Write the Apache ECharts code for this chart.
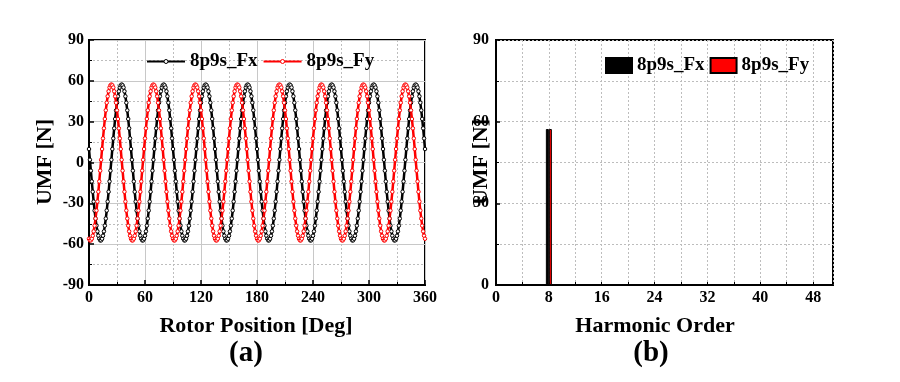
<!DOCTYPE html>
<html><head><meta charset="utf-8">
<script src="https://cdn.jsdelivr.net/npm/echarts@6/dist/echarts.min.js"></script>
<style>html,body{margin:0;padding:0;background:#fff}#c{width:900px;height:382px}</style>
</head><body><div id="c"></div>
<script>
// ---- data ----
const rotorStepDeg = 1; // sample spacing of the rotor position (deg)
const fxUMF = [
9.9,2.0,-6.0,-13.9,-21.5,-28.7,-35.3,-41.2,-46.4,-50.6,-53.8,-56.0,-57.2,-57.2,-56.0,-53.8,-50.6,-46.4,-41.2,-35.3,-28.7,-21.5,-13.9,-6.0,2.0,9.9,17.7,25.1,32.0,38.3,43.9,48.6,52.3,55.1,56.7,57.3,56.7,55.1,52.3,48.6,43.9,38.3,32.0,25.1,17.7,
9.9,2.0,-6.0,-13.9,-21.5,-28.7,-35.3,-41.2,-46.4,-50.6,-53.8,-56.0,-57.2,-57.2,-56.0,-53.8,-50.6,-46.4,-41.2,-35.3,-28.7,-21.5,-13.9,-6.0,2.0,9.9,17.7,25.1,32.0,38.3,43.9,48.6,52.3,55.1,56.7,57.3,56.7,55.1,52.3,48.6,43.9,38.3,32.0,25.1,17.7,
9.9,2.0,-6.0,-13.9,-21.5,-28.7,-35.3,-41.2,-46.4,-50.6,-53.8,-56.0,-57.2,-57.2,-56.0,-53.8,-50.6,-46.4,-41.2,-35.3,-28.7,-21.5,-13.9,-6.0,2.0,9.9,17.7,25.1,32.0,38.3,43.9,48.6,52.3,55.1,56.7,57.3,56.7,55.1,52.3,48.6,43.9,38.3,32.0,25.1,17.7,
9.9,2.0,-6.0,-13.9,-21.5,-28.7,-35.3,-41.2,-46.4,-50.6,-53.8,-56.0,-57.2,-57.2,-56.0,-53.8,-50.6,-46.4,-41.2,-35.3,-28.7,-21.5,-13.9,-6.0,2.0,9.9,17.7,25.1,32.0,38.3,43.9,48.6,52.3,55.1,56.7,57.3,56.7,55.1,52.3,48.6,43.9,38.3,32.0,25.1,17.7,
9.9,2.0,-6.0,-13.9,-21.5,-28.7,-35.3,-41.2,-46.4,-50.6,-53.8,-56.0,-57.2,-57.2,-56.0,-53.8,-50.6,-46.4,-41.2,-35.3,-28.7,-21.5,-13.9,-6.0,2.0,9.9,17.7,25.1,32.0,38.3,43.9,48.6,52.3,55.1,56.7,57.3,56.7,55.1,52.3,48.6,43.9,38.3,32.0,25.1,17.7,
9.9,2.0,-6.0,-13.9,-21.5,-28.7,-35.3,-41.2,-46.4,-50.6,-53.8,-56.0,-57.2,-57.2,-56.0,-53.8,-50.6,-46.4,-41.2,-35.3,-28.7,-21.5,-13.9,-6.0,2.0,9.9,17.7,25.1,32.0,38.3,43.9,48.6,52.3,55.1,56.7,57.3,56.7,55.1,52.3,48.6,43.9,38.3,32.0,25.1,17.7,
9.9,2.0,-6.0,-13.9,-21.5,-28.7,-35.3,-41.2,-46.4,-50.6,-53.8,-56.0,-57.2,-57.2,-56.0,-53.8,-50.6,-46.4,-41.2,-35.3,-28.7,-21.5,-13.9,-6.0,2.0,9.9,17.7,25.1,32.0,38.3,43.9,48.6,52.3,55.1,56.7,57.3,56.7,55.1,52.3,48.6,43.9,38.3,32.0,25.1,17.7,
9.9,2.0,-6.0,-13.9,-21.5,-28.7,-35.3,-41.2,-46.4,-50.6,-53.8,-56.0,-57.2,-57.2,-56.0,-53.8,-50.6,-46.4,-41.2,-35.3,-28.7,-21.5,-13.9,-6.0,2.0,9.9,17.7,25.1,32.0,38.3,43.9,48.6,52.3,55.1,56.7,57.3,56.7,55.1,52.3,48.6,43.9,38.3,32.0,25.1,17.7,
9.9
];
const fyUMF = [
-56.0,-57.2,-57.2,-56.0,-53.8,-50.6,-46.4,-41.2,-35.3,-28.7,-21.5,-13.9,-6.0,2.0,9.9,17.7,25.1,32.0,38.3,43.9,48.6,52.3,55.1,56.7,57.3,56.7,55.1,52.3,48.6,43.9,38.3,32.0,25.1,17.7,9.9,2.0,-6.0,-13.9,-21.5,-28.7,-35.3,-41.2,-46.4,-50.6,-53.8,
-56.0,-57.2,-57.2,-56.0,-53.8,-50.6,-46.4,-41.2,-35.3,-28.7,-21.5,-13.9,-6.0,2.0,9.9,17.7,25.1,32.0,38.3,43.9,48.6,52.3,55.1,56.7,57.3,56.7,55.1,52.3,48.6,43.9,38.3,32.0,25.1,17.7,9.9,2.0,-6.0,-13.9,-21.5,-28.7,-35.3,-41.2,-46.4,-50.6,-53.8,
-56.0,-57.2,-57.2,-56.0,-53.8,-50.6,-46.4,-41.2,-35.3,-28.7,-21.5,-13.9,-6.0,2.0,9.9,17.7,25.1,32.0,38.3,43.9,48.6,52.3,55.1,56.7,57.3,56.7,55.1,52.3,48.6,43.9,38.3,32.0,25.1,17.7,9.9,2.0,-6.0,-13.9,-21.5,-28.7,-35.3,-41.2,-46.4,-50.6,-53.8,
-56.0,-57.2,-57.2,-56.0,-53.8,-50.6,-46.4,-41.2,-35.3,-28.7,-21.5,-13.9,-6.0,2.0,9.9,17.7,25.1,32.0,38.3,43.9,48.6,52.3,55.1,56.7,57.3,56.7,55.1,52.3,48.6,43.9,38.3,32.0,25.1,17.7,9.9,2.0,-6.0,-13.9,-21.5,-28.7,-35.3,-41.2,-46.4,-50.6,-53.8,
-56.0,-57.2,-57.2,-56.0,-53.8,-50.6,-46.4,-41.2,-35.3,-28.7,-21.5,-13.9,-6.0,2.0,9.9,17.7,25.1,32.0,38.3,43.9,48.6,52.3,55.1,56.7,57.3,56.7,55.1,52.3,48.6,43.9,38.3,32.0,25.1,17.7,9.9,2.0,-6.0,-13.9,-21.5,-28.7,-35.3,-41.2,-46.4,-50.6,-53.8,
-56.0,-57.2,-57.2,-56.0,-53.8,-50.6,-46.4,-41.2,-35.3,-28.7,-21.5,-13.9,-6.0,2.0,9.9,17.7,25.1,32.0,38.3,43.9,48.6,52.3,55.1,56.7,57.3,56.7,55.1,52.3,48.6,43.9,38.3,32.0,25.1,17.7,9.9,2.0,-6.0,-13.9,-21.5,-28.7,-35.3,-41.2,-46.4,-50.6,-53.8,
-56.0,-57.2,-57.2,-56.0,-53.8,-50.6,-46.4,-41.2,-35.3,-28.7,-21.5,-13.9,-6.0,2.0,9.9,17.7,25.1,32.0,38.3,43.9,48.6,52.3,55.1,56.7,57.3,56.7,55.1,52.3,48.6,43.9,38.3,32.0,25.1,17.7,9.9,2.0,-6.0,-13.9,-21.5,-28.7,-35.3,-41.2,-46.4,-50.6,-53.8,
-56.0,-57.2,-57.2,-56.0,-53.8,-50.6,-46.4,-41.2,-35.3,-28.7,-21.5,-13.9,-6.0,2.0,9.9,17.7,25.1,32.0,38.3,43.9,48.6,52.3,55.1,56.7,57.3,56.7,55.1,52.3,48.6,43.9,38.3,32.0,25.1,17.7,9.9,2.0,-6.0,-13.9,-21.5,-28.7,-35.3,-41.2,-46.4,-50.6,-53.8,
-56.0
];
const harmonicOrders = [8];
const fxHarmonic = [57.3];
const fyHarmonic = [57.3];
const seriesNames = ['8p9s_Fx', '8p9s_Fy'];
const leftTickLabelsX = [0, 60, 120, 180, 240, 300, 360];
const leftTickLabelsY = [-90, -60, -30, 0, 30, 60, 90];
const rightTickLabelsX = [0, 8, 16, 24, 32, 40, 48];
const rightTickLabelsY = [0, 30, 60, 90];
const texts = {
  leftYTitle: 'UMF [N]', leftXTitle: 'Rotor Position [Deg]', leftTag: '(a)',
  rightYTitle: 'UMF [N]', rightXTitle: 'Harmonic Order', rightTag: '(b)'
};

// ---- build ----
const FONT = "'Liberation Serif', 'Times New Roman', serif";
const pairs = arr => arr.map((v, i) => [i * rotorStepDeg, v]);
const lbl = (list) => ({
  fontFamily: FONT, fontWeight: 'bold', fontSize: 16, color: '#000',
  formatter: v => (list.indexOf(v) >= 0 ? String(v) : '')
});
const axisLine = { show: true, onZero: false, lineStyle: { color: '#000', width: 2 } };
const solidSplit = { show: true, lineStyle: { color: '#c8c8c8', width: 1, type: 'solid' } };
const dotSplit = { show: true, lineStyle: { color: '#bdbdbd', width: 1, type: [2, 2] } };

const chart = echarts.init(document.getElementById('c'), null, { renderer: 'canvas' });
chart.setOption({
  animation: false,
  backgroundColor: '#fff',
  grid: [
    { left: 89, top: 40, width: 336, height: 245, show: true, borderColor: '#000', borderWidth: 2, backgroundColor: 'transparent' },
    { left: 496, top: 40, width: 337, height: 245, show: true, borderColor: '#000', borderWidth: 2, backgroundColor: 'transparent' }
  ],
  xAxis: [
    { gridIndex: 0, type: 'value', min: 0, max: 360, interval: 60,
      axisLine, axisTick: { show: true, inside: true, length: 5, lineStyle: { color: '#000', width: 1.5 } },
      minorTick: { show: true, splitNumber: 2, length: 3, lineStyle: { color: '#000' } },
      splitLine: solidSplit, minorSplitLine: dotSplit,
      axisLabel: Object.assign(lbl(leftTickLabelsX), { margin: 5 }) },
    { gridIndex: 1, type: 'value', min: 0, max: 51, interval: 4,
      axisLine, axisTick: { show: true, inside: true, length: 3, lineStyle: { color: '#000', width: 1 } },
      splitLine: dotSplit,
      axisLabel: Object.assign(lbl(rightTickLabelsX), { margin: 5, showMaxLabel: false }) }
  ],
  yAxis: [
    { gridIndex: 0, type: 'value', min: -90, max: 90, interval: 30,
      axisLine, axisTick: { show: true, inside: true, length: 5, lineStyle: { color: '#000', width: 1.5 } },
      minorTick: { show: true, splitNumber: 2, length: 3, lineStyle: { color: '#000' } },
      splitLine: solidSplit, minorSplitLine: dotSplit,
      axisLabel: Object.assign(lbl(leftTickLabelsY), { margin: 5 }) },
    { gridIndex: 1, type: 'value', min: 0, max: 90, interval: 30,
      axisLine, axisTick: { show: true, inside: true, length: 4, lineStyle: { color: '#000', width: 1.5 } },
      minorTick: { show: true, splitNumber: 2, length: 3, lineStyle: { color: '#000' } },
      splitLine: dotSplit, minorSplitLine: dotSplit,
      axisLabel: Object.assign(lbl(rightTickLabelsY), { margin: 7 }) }
  ],
  legend: [
    { data: seriesNames, left: 146, top: 52, padding: 0, itemWidth: 38, itemHeight: 5, itemGap: 5,
      itemStyle: { borderWidth: 1 },
      textStyle: { fontFamily: FONT, fontWeight: 'bold', fontSize: 19, color: '#000' } },
    { data: seriesNames.map(n => 'b:' + n), formatter: n => n.slice(2), icon: 'rect',
      left: 605, top: 56, padding: 0, itemWidth: 26, itemHeight: 15, itemGap: 5,
      textStyle: { fontFamily: FONT, fontWeight: 'bold', fontSize: 19, color: '#000' } }
  ],
  series: [
    { name: seriesNames[0], type: 'line', xAxisIndex: 0, yAxisIndex: 0, data: pairs(fxUMF),
      showSymbol: true, showAllSymbol: true, symbol: 'circle', symbolSize: 3.5,
      lineStyle: { color: '#000', width: 2.5 },
      itemStyle: { color: '#fff', borderColor: '#000', borderWidth: 1 } },
    { name: seriesNames[1], type: 'line', xAxisIndex: 0, yAxisIndex: 0, data: pairs(fyUMF),
      showSymbol: true, showAllSymbol: true, symbol: 'circle', symbolSize: 3.5,
      lineStyle: { color: '#ff0000', width: 2.5 },
      itemStyle: { color: '#fff', borderColor: '#ff0000', borderWidth: 1 } },
    { name: 'b:' + seriesNames[0], type: 'bar', xAxisIndex: 1, yAxisIndex: 1,
      data: harmonicOrders.map((h, i) => [h, fxHarmonic[i]]), barWidth: 3, barGap: '0%',
      itemStyle: { color: '#000', borderColor: '#000', borderWidth: 1 } },
    { name: 'b:' + seriesNames[1], type: 'bar', xAxisIndex: 1, yAxisIndex: 1,
      data: harmonicOrders.map((h, i) => [h, fyHarmonic[i]]), barWidth: 3, barGap: '0%',
      itemStyle: { color: '#ff0000', borderColor: '#000', borderWidth: 1 } }
  ],
  graphic: [
    { type: 'text', x: 45, y: 162, rotation: Math.PI / 2,
      style: { text: texts.leftYTitle, fontFamily: FONT, fontWeight: 'bold', fontSize: 22, fill: '#000', align: 'center', verticalAlign: 'middle' } },
    { type: 'text', x: 256, y: 326,
      style: { text: texts.leftXTitle, fontFamily: FONT, fontWeight: 'bold', fontSize: 22, fill: '#000', align: 'center', verticalAlign: 'middle' } },
    { type: 'text', x: 246, y: 354,
      style: { text: texts.leftTag, fontFamily: FONT, fontWeight: 'bold', fontSize: 29, fill: '#000', align: 'center', verticalAlign: 'middle' } },
    { type: 'text', x: 481, y: 162, rotation: Math.PI / 2,
      style: { text: texts.rightYTitle, fontFamily: FONT, fontWeight: 'bold', fontSize: 22, fill: '#000', align: 'center', verticalAlign: 'middle' } },
    { type: 'text', x: 655, y: 326,
      style: { text: texts.rightXTitle, fontFamily: FONT, fontWeight: 'bold', fontSize: 22, fill: '#000', align: 'center', verticalAlign: 'middle' } },
    { type: 'text', x: 651, y: 354,
      style: { text: texts.rightTag, fontFamily: FONT, fontWeight: 'bold', fontSize: 29, fill: '#000', align: 'center', verticalAlign: 'middle' } }
  ]
});
</script>
</body></html>
